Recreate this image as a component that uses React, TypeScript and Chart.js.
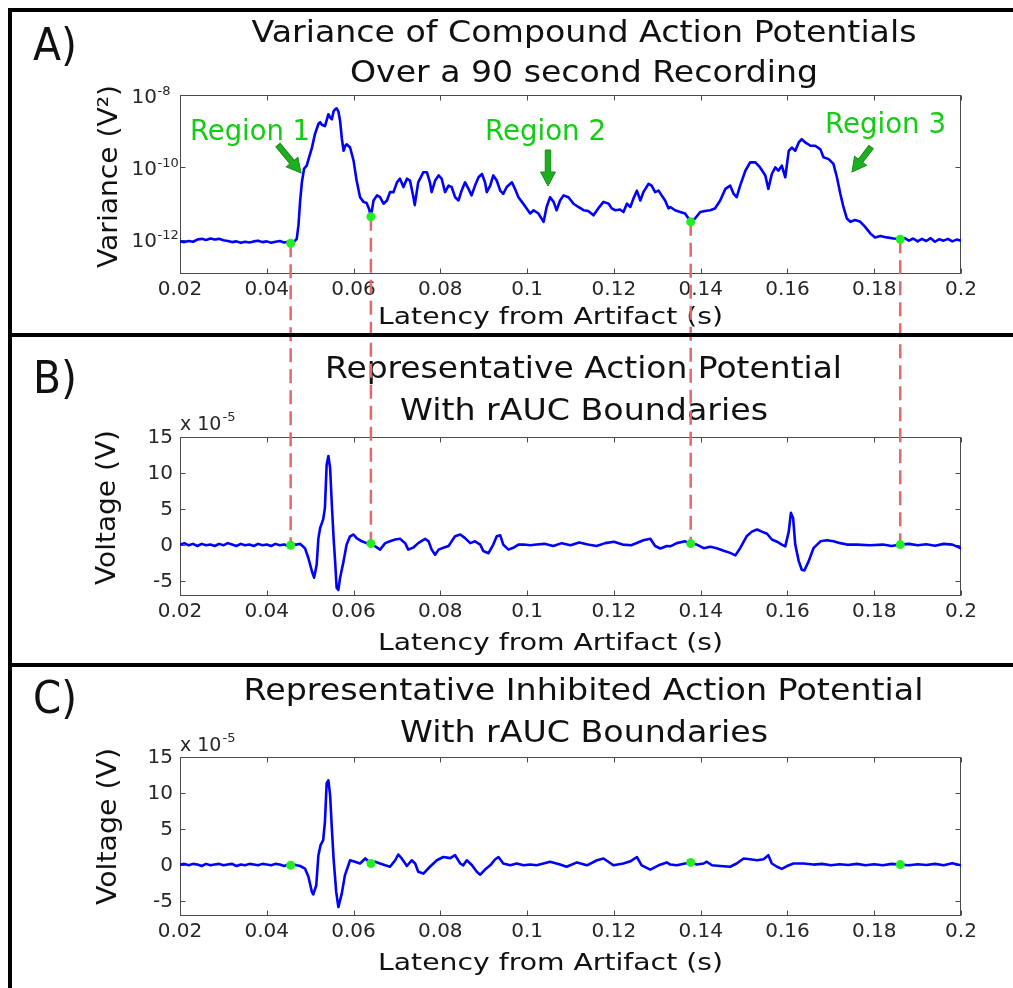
import React, { useEffect, useRef } from 'react';
import { Chart, registerables } from 'chart.js';

Chart.register(...registerables);

const FONT = "'DejaVu Sans', 'Liberation Sans', sans-serif";
Chart.defaults.font.family = FONT;

// ---------------- data ----------------
const latencyTicks = [0.02, 0.04, 0.06, 0.08, 0.1, 0.12, 0.14, 0.16, 0.18, 0.2];
const varianceTickExponents = [-12, -10, -8];
const voltageTicks = [-5, 0, 5, 10, 15];

// rAUC boundaries (s)
const boundaryLatency = [0.0455, 0.064, 0.1377, 0.186];
const boundaryVarianceExpA = [-12.09, -11.36, -11.5, -11.98];
const boundaryVoltageB = [0.0, 0.24, 0.24, 0.1];
const boundaryVoltageC = [0.0, 0.25, 0.4, 0.1];

// Panel A: variance (log10 of V^2)
const latencyA = [
  0.020, 0.021, 0.022, 0.023, 0.024, 0.025, 0.026, 0.027, 0.028, 0.029,
  0.030, 0.031, 0.032, 0.033, 0.034, 0.035, 0.036, 0.037, 0.038, 0.039,
  0.040, 0.041, 0.042, 0.043, 0.044, 0.045, 0.0455, 0.0462, 0.0469, 0.0473,
  0.0477, 0.0481, 0.0486, 0.0492, 0.0498, 0.0504, 0.0511, 0.0519, 0.0523, 0.0527,
  0.0534, 0.0538, 0.0542, 0.0546, 0.0550, 0.0554, 0.0558, 0.0561, 0.0565, 0.0569,
  0.0573, 0.0577, 0.0581, 0.0584, 0.0592, 0.0600, 0.0607, 0.0615, 0.0623, 0.0630,
  0.0636, 0.0640, 0.0646, 0.0654, 0.0661, 0.0669, 0.0677, 0.0684, 0.0692, 0.0700,
  0.0707, 0.0715, 0.0723, 0.0730, 0.0738, 0.0741, 0.0749, 0.0761, 0.0769, 0.0776,
  0.0780, 0.0788, 0.0796, 0.0803, 0.0811, 0.0819, 0.0826, 0.0834, 0.0842, 0.0849,
  0.0857, 0.0865, 0.0872, 0.0880, 0.0888, 0.0896, 0.0903, 0.0907, 0.0915, 0.0922,
  0.0930, 0.0938, 0.0945, 0.0953, 0.0965, 0.0972, 0.0980, 0.0988, 0.0999, 0.1007,
  0.1015, 0.1026, 0.1038, 0.1045, 0.1053, 0.1061, 0.1068, 0.1076, 0.1084, 0.1095,
  0.1107, 0.1118, 0.1130, 0.1141, 0.1153, 0.1164, 0.1176, 0.1188, 0.1195, 0.1203,
  0.1214, 0.1222, 0.1230, 0.1238, 0.1245, 0.1253, 0.1261, 0.1268, 0.1280, 0.1287,
  0.1295, 0.1303, 0.1310, 0.1318, 0.1326, 0.1330, 0.1341, 0.1353, 0.1364, 0.1377,
  0.1387, 0.1399, 0.1410, 0.1422, 0.1433, 0.1445, 0.1457, 0.1468, 0.1476, 0.1483,
  0.1491, 0.1503, 0.1514, 0.1526, 0.1537, 0.1549, 0.1556, 0.1564, 0.1572, 0.1579,
  0.1587, 0.1595, 0.1603, 0.1610, 0.1618, 0.1626, 0.1633, 0.1641, 0.1653, 0.1664,
  0.1676, 0.1683, 0.1695, 0.1706, 0.1714, 0.1722, 0.1729, 0.1737, 0.1745, 0.1756,
  0.1768, 0.1779, 0.1791, 0.1802, 0.1814, 0.1829, 0.1845, 0.1860, 0.1870, 0.1880,
  0.1890, 0.1900, 0.1910, 0.1920, 0.1930, 0.1940, 0.1950, 0.1960, 0.1970, 0.1980,
  0.1990, 0.2000,
];
const varianceExpA = [
  -12.04, -12.06, -12.03, -12.05, -11.99, -11.97, -12.00, -11.96, -11.99, -11.97,
  -12.01, -12.03, -12.06, -12.04, -12.08, -12.05, -12.07, -12.04, -12.02, -12.06,
  -12.04, -12.08, -12.05, -12.03, -12.07, -12.05, -12.09, -12.06, -11.97, -11.60,
  -10.91, -10.40, -10.03, -9.95, -9.70, -9.46, -9.08, -8.80, -8.75, -8.82,
  -8.86, -8.70, -8.53, -8.62, -8.67, -8.45, -8.39, -8.37, -8.45, -8.72,
  -9.20, -9.54, -9.40, -9.36, -9.45, -9.81, -10.36, -10.82, -10.95, -10.98,
  -11.15, -11.36, -10.91, -10.77, -10.82, -11.00, -10.91, -10.68, -10.68, -10.41,
  -10.31, -10.54, -10.31, -10.36, -10.82, -11.04, -10.41, -10.13, -10.13, -10.41,
  -10.68, -10.36, -10.22, -10.31, -10.68, -10.50, -10.54, -10.82, -10.91, -10.64,
  -10.41, -10.59, -10.77, -10.50, -10.27, -10.18, -10.41, -10.68, -10.50, -10.22,
  -10.36, -10.64, -10.73, -10.54, -10.41, -10.59, -10.82, -10.95, -11.13, -11.27,
  -11.18, -11.27, -11.50, -11.09, -10.82, -10.95, -11.18, -10.91, -10.77, -10.82,
  -11.00, -11.09, -11.18, -11.20, -11.32, -11.13, -10.95, -11.00, -11.13, -11.18,
  -11.16, -11.23, -11.00, -11.09, -10.86, -10.64, -10.91, -10.68, -10.45, -10.50,
  -10.68, -10.64, -10.77, -10.91, -11.13, -11.09, -11.18, -11.23, -11.27, -11.50,
  -11.41, -11.23, -11.20, -11.18, -11.13, -10.91, -10.59, -10.50, -10.73, -10.82,
  -10.50, -10.09, -9.86, -9.86, -10.00, -10.22, -10.59, -10.18, -10.00, -10.09,
  -9.95, -10.27, -9.54, -9.45, -9.54, -9.31, -9.22, -9.31, -9.40, -9.40,
  -9.50, -9.72, -9.77, -9.90, -10.27, -10.73, -11.09, -11.41, -11.50, -11.45,
  -11.50, -11.64, -11.82, -11.93, -11.89, -11.93, -11.96, -11.98, -11.95, -12.02,
  -11.96, -12.04, -11.97, -12.03, -11.95, -12.05, -11.98, -12.02, -11.97, -12.04,
  -11.99, -12.02,
];

// Panel B: representative action potential (x 1e-5 V)
const latencyB = [
  0.020, 0.021, 0.022, 0.023, 0.024, 0.025, 0.026, 0.027, 0.028, 0.029,
  0.030, 0.031, 0.032, 0.033, 0.034, 0.035, 0.036, 0.037, 0.038, 0.039,
  0.040, 0.041, 0.042, 0.043, 0.044, 0.045, 0.0455, 0.0462, 0.0469, 0.0477,
  0.0488, 0.0496, 0.0504, 0.0509, 0.0515, 0.0519, 0.0523, 0.0530, 0.0534, 0.0538,
  0.0542, 0.0546, 0.0550, 0.0554, 0.0558, 0.0561, 0.0565, 0.0569, 0.0577, 0.0584,
  0.0592, 0.0600, 0.0607, 0.0619, 0.0630, 0.0640, 0.0650, 0.0661, 0.0673, 0.0684,
  0.0696, 0.0707, 0.0719, 0.0726, 0.0738, 0.0749, 0.0765, 0.0773, 0.0780, 0.0788,
  0.0796, 0.0807, 0.0819, 0.0826, 0.0834, 0.0846, 0.0857, 0.0869, 0.0880, 0.0892,
  0.0899, 0.0911, 0.0922, 0.0930, 0.0938, 0.0945, 0.0957, 0.0968, 0.0980, 0.0992,
  0.1007, 0.1022, 0.1040, 0.1060, 0.1080, 0.1100, 0.1120, 0.1140, 0.1160, 0.1180,
  0.1200, 0.1220, 0.1240, 0.1268, 0.1284, 0.1295, 0.1307, 0.1322, 0.1330, 0.1345,
  0.1364, 0.1377, 0.1391, 0.1407, 0.1422, 0.1437, 0.1453, 0.1468, 0.1480, 0.1491,
  0.1506, 0.1518, 0.1530, 0.1541, 0.1553, 0.1564, 0.1576, 0.1587, 0.1595, 0.1603,
  0.1608, 0.1613, 0.1618, 0.1626, 0.1633, 0.1639, 0.1649, 0.1660, 0.1676, 0.1691,
  0.1706, 0.1722, 0.1737, 0.1760, 0.1790, 0.1820, 0.1840, 0.1860, 0.1880, 0.1900,
  0.1920, 0.1940, 0.1960, 0.1980, 0.2000,
];
const voltageB = [
  0.1, 0.3, 0.0, 0.2, -0.1, 0.2, 0.0, 0.1, -0.1, 0.2,
  0.0, 0.3, 0.1, -0.1, 0.2, 0.0, 0.1, -0.1, 0.2, 0.0,
  0.1, -0.1, 0.2, 0.0, 0.1, -0.1, 0.0, 0.1, 0.1, 0.2,
  -0.4, -1.8, -3.6, -4.5, -2.7, 1.0, 2.4, 3.6, 5.2, 11.2,
  12.4, 10.7, 5.6, 1.0, -2.7, -5.9, -6.2, -4.5, -2.2, 0.1,
  1.25, 1.5, 1.0, 0.55, 0.3, 0.24, -0.14, -0.6, 0.3, 0.55,
  0.8, 0.9, 0.3, -0.6, -0.3, 0.3, 0.9, 0.55, -0.6, -1.3,
  -0.6, -0.35, -0.1, 0.55, 1.25, 1.5, 1.0, 0.3, 0.55, 0.1,
  -0.8, -1.1, 0.1, 1.25, 1.4, 0.1, -0.6, -0.35, 0.1, 0.1,
  0.0, 0.1, 0.2, -0.1, 0.3, 0.0, 0.4, 0.1, -0.1, 0.3,
  0.5, 0.1, 0.0, 0.7, 0.9, -0.1, -0.45, -0.1, -0.14, 0.3,
  0.55, 0.24, 0.1, -0.4, -0.2, -0.4, -0.75, -1.05, -1.4, -0.4,
  1.25, 1.9, 2.2, 1.9, 1.6, 0.8, 0.5, 0.1, -0.15, 1.9,
  4.5, 3.8, 0.1, -2.2, -3.4, -3.5, -2.2, -0.4, 0.55, 0.7,
  0.55, 0.3, 0.1, 0.1, 0.0, 0.1, -0.1, 0.1, 0.2, 0.0,
  0.15, -0.05, 0.2, 0.1, -0.4,
];

// Panel C: representative inhibited action potential (x 1e-5 V)
const latencyC = [
  0.020, 0.021, 0.022, 0.023, 0.024, 0.025, 0.026, 0.027, 0.028, 0.029,
  0.030, 0.031, 0.032, 0.033, 0.034, 0.035, 0.036, 0.037, 0.038, 0.039,
  0.040, 0.041, 0.042, 0.043, 0.044, 0.045, 0.0455, 0.0462, 0.0469, 0.0477,
  0.0488, 0.0496, 0.0504, 0.0507, 0.0514, 0.0519, 0.0524, 0.0530, 0.0534, 0.0538,
  0.0542, 0.0546, 0.0550, 0.0554, 0.0560, 0.0565, 0.0573, 0.0580, 0.0592, 0.0603,
  0.0615, 0.0627, 0.0640, 0.0650, 0.0661, 0.0673, 0.0684, 0.0696, 0.0703, 0.0711,
  0.0723, 0.0734, 0.0742, 0.0749, 0.0761, 0.0776, 0.0792, 0.0807, 0.0823, 0.0834,
  0.0846, 0.0853, 0.0861, 0.0873, 0.0884, 0.0892, 0.0903, 0.0915, 0.0926, 0.0934,
  0.0945, 0.0961, 0.0976, 0.0992, 0.1007, 0.1022, 0.1053, 0.1076, 0.1091, 0.1115,
  0.1138, 0.1161, 0.1176, 0.1199, 0.1222, 0.1238, 0.1253, 0.1264, 0.1284, 0.1303,
  0.1322, 0.1330, 0.1345, 0.1364, 0.1377, 0.1391, 0.1407, 0.1414, 0.1426, 0.1445,
  0.1468, 0.1483, 0.1499, 0.1514, 0.1530, 0.1545, 0.1556, 0.1564, 0.1576, 0.1587,
  0.1599, 0.1614, 0.1637, 0.1660, 0.1680, 0.1700, 0.1720, 0.1740, 0.1760, 0.1780,
  0.1800, 0.1820, 0.1840, 0.1860, 0.1880, 0.1900, 0.1920, 0.1940, 0.1960, 0.1980,
  0.2000,
];
const voltageC = [
  0.1, 0.2, 0.0, 0.2, 0.1, -0.1, 0.2, 0.0, 0.1, 0.2,
  0.0, 0.1, 0.2, -0.1, 0.1, 0.0, 0.2, 0.1, 0.0, 0.2,
  0.1, 0.0, 0.2, 0.1, -0.1, 0.1, 0.0, 0.1, 0.0, -0.1,
  -0.45, -1.6, -3.7, -4.05, -2.8, 1.4, 2.8, 3.5, 6.0, 11.4,
  11.8, 9.7, 5.1, 0.9, -3.7, -5.8, -3.9, -1.4, 0.7, 0.5,
  0.25, 0.95, 0.25, 0.5, 0.25, 0.0, -0.2, 0.7, 1.5, 0.95,
  -0.1, 0.7, 0.25, -0.9, -1.15, -0.2, 0.7, 1.15, 1.0, 1.4,
  0.25, 0.0, 0.7, 0.0, -0.9, -1.3, -0.6, 0.0, 0.8, 1.15,
  0.25, 0.0, 0.25, 0.0, 0.1, 0.0, 0.5, 0.1, -0.2, 0.4,
  0.0, 0.7, 0.95, 0.0, 0.25, 0.55, 1.15, 0.0, -0.6, 0.0,
  0.4, 0.1, 0.0, 0.25, 0.4, 0.1, 0.25, 0.5, 0.0, -0.1,
  -0.2, 0.25, 0.95, 0.85, 0.7, 0.85, 1.4, 0.25, -0.2, -0.5,
  -0.1, 0.25, 0.25, 0.1, 0.2, 0.0, 0.15, 0.05, 0.2, 0.0,
  0.15, 0.0, 0.2, 0.1, 0.0, 0.15, 0.05, 0.2, 0.0, 0.3,
  0.0,
];

// ---------------- text ----------------
const titleA = ['Variance of Compound Action Potentials', 'Over a 90 second Recording'];
const titleB = ['Representative Action Potential', 'With rAUC Boundaries'];
const titleC = ['Representative Inhibited Action Potential', 'With rAUC Boundaries'];
const panelLetters = ['A)', 'B)', 'C)'];
const xAxisLabel = 'Latency from Artifact (s)';
const yLabelA = 'Variance (V\u00B2)';
const yLabelVoltage = 'Voltage (V)';
const regionLabels = ['Region 1', 'Region 2', 'Region 3'];
const multiplierBase = 'x 10';
const multiplierExp = '-5';
const logTickBase = '10';

// ---------------- styles ----------------
const TEXT = '#111111';
const TICK_TEXT = '#262626';
const FRAME = '#4a4a4a';
const LINE_BLUE = '#0000ff';
const DOT_GREEN = '#22ee22';
const DASH_RED = '#e26a6a';
const REGION_GREEN = '#14cc14';
const ARROW_GREEN = '#1fae1f';

function drawLabel(ctx: any, text: string, x: number, y: number, o: any) {
  const { size, align = 'left', width, rotate = false, color = TEXT } = o;
  ctx.save();
  ctx.font = `${size}px ${FONT}`;
  ctx.fillStyle = color;
  ctx.textAlign = align;
  ctx.textBaseline = 'alphabetic';
  const w = ctx.measureText(text).width;
  const sx = width ? width / w : 1;
  ctx.translate(x, y);
  if (rotate) ctx.rotate(-Math.PI / 2);
  ctx.scale(sx, 1);
  ctx.fillText(text, 0, 0);
  ctx.restore();
}

function drawArrow(ctx: any, x1: number, y1: number, x2: number, y2: number) {
  const shaft = 5.5, headLen = 14, headW = 15;
  const ang = Math.atan2(y2 - y1, x2 - x1);
  const len = Math.hypot(x2 - x1, y2 - y1);
  ctx.save();
  ctx.translate(x1, y1);
  ctx.rotate(ang);
  ctx.beginPath();
  ctx.moveTo(0, -shaft / 2);
  ctx.lineTo(len - headLen, -shaft / 2);
  ctx.lineTo(len - headLen, -headW / 2);
  ctx.lineTo(len, 0);
  ctx.lineTo(len - headLen, headW / 2);
  ctx.lineTo(len - headLen, shaft / 2);
  ctx.lineTo(0, shaft / 2);
  ctx.closePath();
  ctx.fillStyle = ARROW_GREEN;
  ctx.fill();
  ctx.lineWidth = 1;
  ctx.strokeStyle = '#178f17';
  ctx.stroke();
  ctx.restore();
}

function drawMultiplier(ctx: any, x: number, baseline: number) {
  ctx.save();
  ctx.font = `19px ${FONT}`;
  ctx.fillStyle = TICK_TEXT;
  ctx.textAlign = 'left';
  ctx.textBaseline = 'alphabetic';
  ctx.fillText(multiplierBase, x, baseline);
  const w = ctx.measureText(multiplierBase).width;
  ctx.font = `13px ${FONT}`;
  ctx.fillText(multiplierExp, x + w + 1, baseline - 9);
  ctx.restore();
}

// power-of-ten tick labels for the log axis, placed at the scale's own tick pixels
function drawLogTickLabels(chart: any) {
  const { ctx, scales } = chart;
  const y = scales.y;
  ctx.save();
  ctx.fillStyle = TICK_TEXT;
  ctx.textBaseline = 'alphabetic';
  y.ticks.forEach((t: any) => {
    const py = y.getPixelForValue(t.value);
    const exp = String(Math.round(Math.log10(t.value)));
    ctx.font = `20px ${FONT}`;
    ctx.textAlign = 'right';
    ctx.fillText(logTickBase, 157, py + 7.5);
    ctx.font = `13px ${FONT}`;
    ctx.textAlign = 'left';
    ctx.fillText(exp, 157.5, py - 0.5);
  });
  ctx.restore();
}

function drawFrame(chart: any) {
  const { ctx, chartArea, scales } = chart;
  const L = Math.round(chartArea.left) + 0.5;
  const R = Math.round(chartArea.right) - 0.5;
  const T = Math.round(chartArea.top) + 0.5;
  const B = Math.round(chartArea.bottom) - 0.5;
  ctx.save();
  ctx.strokeStyle = FRAME;
  ctx.lineWidth = 1;
  ctx.strokeRect(L, T, R - L, B - T);
  const tl = 5;
  ctx.beginPath();
  scales.x.ticks.forEach((t: any) => {
    const px = Math.round(scales.x.getPixelForValue(t.value)) + 0.5;
    ctx.moveTo(px, B); ctx.lineTo(px, B - tl);
    ctx.moveTo(px, T); ctx.lineTo(px, T + tl);
  });
  scales.y.ticks.forEach((t: any) => {
    const py = Math.round(scales.y.getPixelForValue(t.value)) + 0.5;
    ctx.moveTo(L, py); ctx.lineTo(L + tl, py);
    ctx.moveTo(R, py); ctx.lineTo(R - tl, py);
  });
  ctx.stroke();
  ctx.restore();
}

function drawDash(ctx: any, x: number, y1: number, y2: number) {
  ctx.save();
  ctx.strokeStyle = DASH_RED;
  ctx.lineWidth = 2.5;
  ctx.setLineDash([14, 7]);
  ctx.beginPath();
  ctx.moveTo(x, y1);
  ctx.lineTo(x, y2);
  ctx.stroke();
  ctx.restore();
}

const fmtLatency = (v: number) => String(Number(Number(v).toFixed(2)));

function xScaleCfg(height: number) {
  return {
    type: 'linear',
    min: 0.02,
    max: 0.2,
    grid: { display: false, drawTicks: false },
    border: { display: false },
    afterBuildTicks: (s: any) => { s.ticks = latencyTicks.map((v) => ({ value: v })); },
    afterFit: (s: any) => { s.height = height; },
    ticks: {
      autoSkip: false, maxRotation: 0, minRotation: 0, padding: 4,
      color: TICK_TEXT, font: { size: 20, family: FONT },
      callback: (v: any) => fmtLatency(v),
    },
  };
}

function voltageScaleCfg() {
  return {
    type: 'linear',
    min: -7,
    max: 15,
    grid: { display: false, drawTicks: false },
    border: { display: false },
    afterBuildTicks: (s: any) => { s.ticks = voltageTicks.map((v) => ({ value: v })); },
    afterFit: (s: any) => { s.width = 180; },
    ticks: {
      padding: 7, color: TICK_TEXT, font: { size: 20, family: FONT },
      callback: (v: any) => String(v),
    },
  };
}

function seriesDatasets(xs: number[], ys: number[], dotYs: number[]) {
  const n = Math.min(xs.length, ys.length);
  const pts = [];
  for (let i = 0; i < n; i++) pts.push({ x: xs[i], y: ys[i] });
  const dots = boundaryLatency.map((t, i) => ({ x: t, y: dotYs[i] }));
  return [
    {
      data: dots, showLine: false, pointRadius: 4.5, pointHoverRadius: 4.5,
      pointBackgroundColor: DOT_GREEN, pointBorderWidth: 0, borderColor: DOT_GREEN, clip: false,
    },
    {
      data: pts, borderColor: LINE_BLUE, borderWidth: 2.6, pointRadius: 0,
      tension: 0, borderJoinStyle: 'round', borderCapStyle: 'round',
    },
  ];
}

const baseOptions = {
  responsive: false,
  maintainAspectRatio: false,
  animation: false,
  devicePixelRatio: 1,
  events: [],
  plugins: { legend: { display: false }, tooltip: { enabled: false }, title: { display: false } },
};

const TOP_B = 335;
const TOP_C = 665;

export default function App() {
  const refA = useRef<HTMLCanvasElement>(null);
  const refB = useRef<HTMLCanvasElement>(null);
  const refC = useRef<HTMLCanvasElement>(null);

  useEffect(() => {
    const shared: any = {};

    const pluginA = {
      id: 'panelA',
      beforeDraw(chart: any) {
        const ctx = chart.ctx;
        drawLabel(ctx, panelLetters[0], 33, 60, { size: 44, width: 44 });
        drawLabel(ctx, titleA[0], 584, 42, { size: 30, align: 'center', width: 665 });
        drawLabel(ctx, titleA[1], 584, 82, { size: 30, align: 'center', width: 468 });
        drawLabel(ctx, yLabelA, 117, 176.5, { size: 26, align: 'center', width: 183, rotate: true });
        drawLabel(ctx, xAxisLabel, 550.5, 324, { size: 23, align: 'center', width: 345 });
      },
      beforeDatasetsDraw(chart: any) {
        drawFrame(chart);
        drawLogTickLabels(chart);
        const { x, y } = chart.scales;
        boundaryLatency.forEach((t, i) => {
          drawDash(chart.ctx, x.getPixelForValue(t), y.getPixelForValue(10 ** boundaryVarianceExpA[i]), 400);
        });
      },
      afterDraw(chart: any) {
        const ctx = chart.ctx;
        drawLabel(ctx, regionLabels[0], 190, 140, { size: 29, width: 120, color: REGION_GREEN });
        drawLabel(ctx, regionLabels[1], 485, 140, { size: 29, width: 121, color: REGION_GREEN });
        drawLabel(ctx, regionLabels[2], 825, 133, { size: 29, width: 121, color: REGION_GREEN });
        drawArrow(ctx, 278, 145, 301, 173);
        drawArrow(ctx, 548, 150, 548, 186);
        drawArrow(ctx, 871, 147, 852, 172);
      },
    };

    const chartA = new Chart(refA.current as any, {
      type: 'line',
      data: {
        datasets: seriesDatasets(latencyA, varianceExpA.map((e) => 10 ** e), boundaryVarianceExpA.map((e) => 10 ** e)) as any,
      },
      options: {
        ...baseOptions,
        layout: { padding: { left: 131, right: 52, top: 95, bottom: 0 } },
        scales: {
          x: xScaleCfg(61),
          y: {
            type: 'logarithmic',
            min: 10 ** -12.94,
            max: 1e-8,
            grid: { display: false, drawTicks: false },
            border: { display: false },
            afterBuildTicks: (s: any) => { s.ticks = varianceTickExponents.map((e) => ({ value: 10 ** e })); },
            afterFit: (s: any) => { s.width = 49; },
            ticks: { display: false },
          },
        },
      } as any,
      plugins: [pluginA],
    } as any);
    shared.a = chartA;

    const pluginB = {
      id: 'panelB',
      beforeDraw(chart: any) {
        const ctx = chart.ctx;
        const o = TOP_B;
        drawLabel(ctx, panelLetters[1], 33, 393 - o, { size: 44, width: 44 });
        drawLabel(ctx, titleB[0], 583.5, 378 - o, { size: 30, align: 'center', width: 517 });
        drawLabel(ctx, titleB[1], 584, 420 - o, { size: 30, align: 'center', width: 368 });
        drawLabel(ctx, yLabelVoltage, 115, 507.5 - o, { size: 27, align: 'center', width: 155, rotate: true });
        drawLabel(ctx, xAxisLabel, 550.5, 650 - o, { size: 23, align: 'center', width: 345 });
        drawMultiplier(ctx, 180, 430 - o);
      },
      beforeDatasetsDraw(chart: any) {
        drawFrame(chart);
        const { x, y } = chart.scales;
        const ya = shared.a ? shared.a.scales.y : null;
        boundaryLatency.forEach((t, i) => {
          const yA = ya ? ya.getPixelForValue(10 ** boundaryVarianceExpA[i]) - TOP_B : -10;
          drawDash(chart.ctx, x.getPixelForValue(t), yA, y.getPixelForValue(boundaryVoltageB[i]));
        });
      },
    };

    const chartB = new Chart(refB.current as any, {
      type: 'line',
      data: { datasets: seriesDatasets(latencyB, voltageB, boundaryVoltageB) as any },
      options: {
        ...baseOptions,
        layout: { padding: { left: 0, right: 52, top: 102.3, bottom: 0 } },
        scales: { x: xScaleCfg(69.3), y: voltageScaleCfg() },
      } as any,
      plugins: [pluginB],
    } as any);

    const pluginC = {
      id: 'panelC',
      beforeDraw(chart: any) {
        const ctx = chart.ctx;
        const o = TOP_C;
        drawLabel(ctx, panelLetters[2], 33, 713 - o, { size: 44, width: 44 });
        drawLabel(ctx, titleC[0], 583.5, 700 - o, { size: 30, align: 'center', width: 680 });
        drawLabel(ctx, titleC[1], 584, 742 - o, { size: 30, align: 'center', width: 368 });
        drawLabel(ctx, yLabelVoltage, 116, 826.5 - o, { size: 27, align: 'center', width: 157, rotate: true });
        drawLabel(ctx, xAxisLabel, 550.5, 970 - o, { size: 23, align: 'center', width: 345 });
        drawMultiplier(ctx, 180, 751 - o);
      },
      beforeDatasetsDraw(chart: any) {
        drawFrame(chart);
      },
    };

    const chartC = new Chart(refC.current as any, {
      type: 'line',
      data: { datasets: seriesDatasets(latencyC, voltageC, boundaryVoltageC) as any },
      options: {
        ...baseOptions,
        layout: { padding: { left: 0, right: 52, top: 92.3, bottom: 0 } },
        scales: { x: xScaleCfg(72.3), y: voltageScaleCfg() },
      } as any,
      plugins: [pluginC],
    } as any);

    return () => {
      chartA.destroy();
      chartB.destroy();
      chartC.destroy();
    };
  }, []);

  const bar = (style: any) => (
    <div style={{ position: 'absolute', background: '#000', zIndex: 2, ...style }} />
  );

  return (
    <div style={{ position: 'absolute', left: 0, top: 0, width: 1013, height: 988, background: '#fff', overflow: 'hidden' }}>
      <canvas ref={refA} width={1013} height={335}
        style={{ position: 'absolute', left: 0, top: 0, width: 1013, height: 335 }} />
      <canvas ref={refB} width={1013} height={330}
        style={{ position: 'absolute', left: 0, top: TOP_B, width: 1013, height: 330 }} />
      <canvas ref={refC} width={1013} height={323}
        style={{ position: 'absolute', left: 0, top: TOP_C, width: 1013, height: 323 }} />
      {bar({ left: 8, top: 8, width: 1005, height: 4 })}
      {bar({ left: 8, top: 8, width: 4, height: 980 })}
      {bar({ left: 8, top: 333, width: 1005, height: 4 })}
      {bar({ left: 8, top: 663, width: 1005, height: 4 })}
    </div>
  );
}
